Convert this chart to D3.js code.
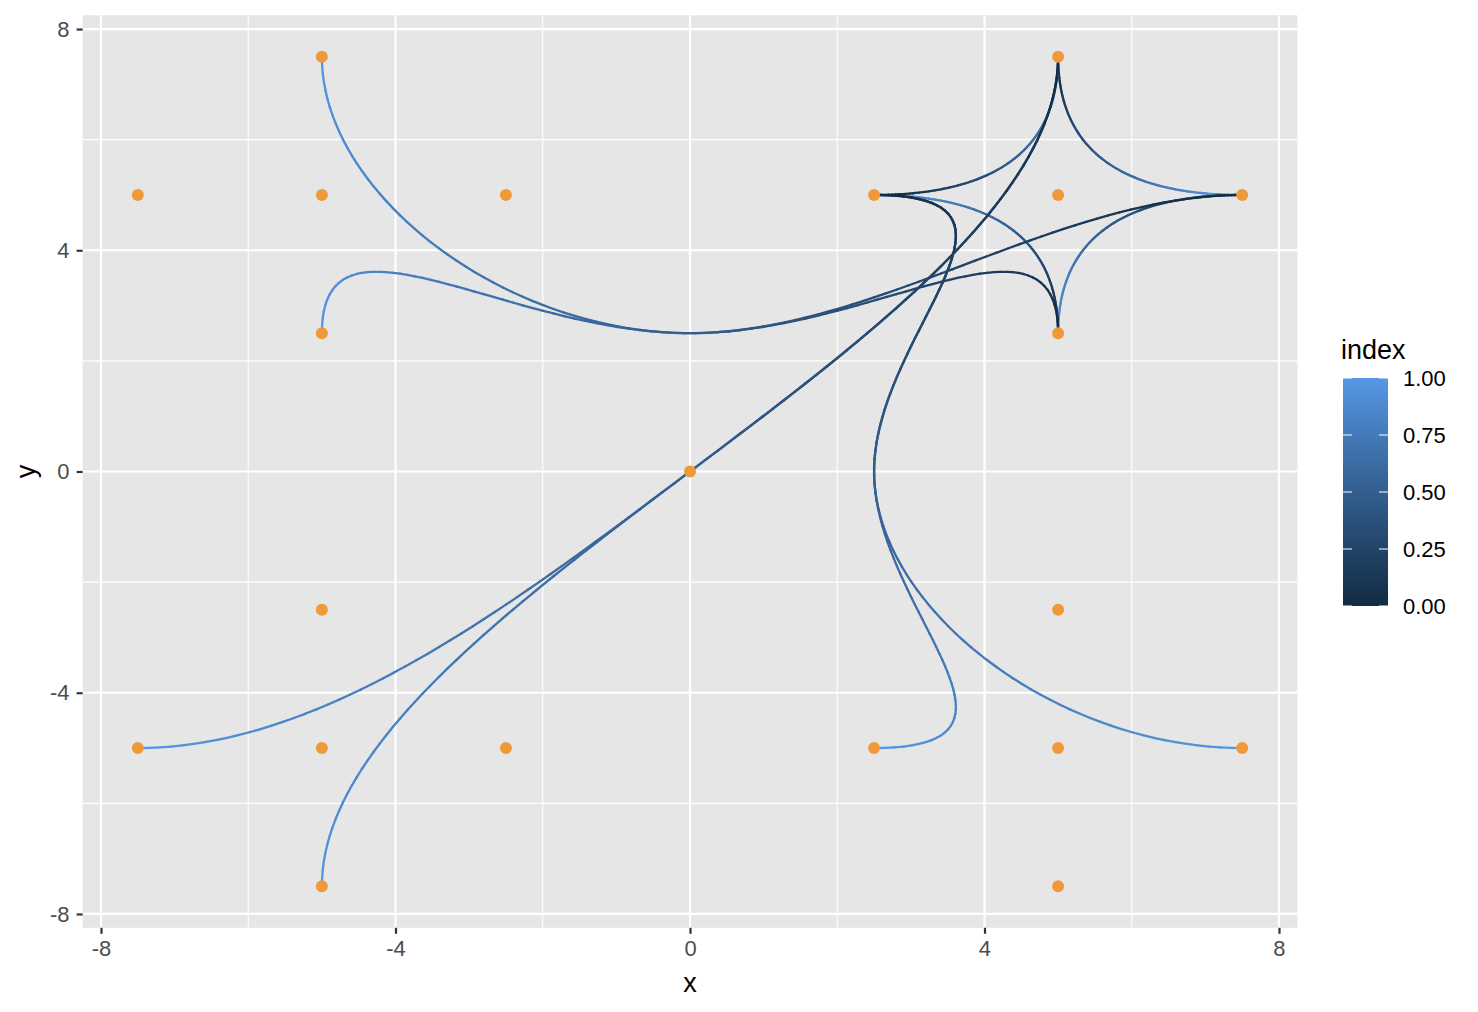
<!DOCTYPE html>
<html><head><meta charset="utf-8">
<script src="https://cdn.jsdelivr.net/npm/d3@7"></script>
<style>body{margin:0;background:#fff;font-family:"Liberation Sans",Arial,sans-serif;}</style>
</head><body><div id="chart"></div>
<script>
// nodes of the tree (name, x, y)
const nodeNames = ["root","TL","TR","BL","BR",
  "TL_N","TL_W","TL_E","TL_S","TR_N","TR_W","TR_E","TR_S",
  "BL_N","BL_W","BL_E","BL_S","BR_N","BR_W","BR_E","BR_S"];
const nodeX = [0,-5,5,-5,5, -5,-7.5,-2.5,-5, 5,2.5,7.5,5, -5,-7.5,-2.5,-5, 5,2.5,7.5,5];
const nodeY = [0,5,5,-5,-5, 7.5,5,5,2.5, 7.5,5,5,2.5, -2.5,-5,-5,-7.5, -2.5,-5,-5,-7.5];
// edges (from leaf, to leaf)
const edgeFrom = ["TR_N","TR_E","TR_S","TR_W","TR_W","TR_W","TR_N","TR_N","TR_E","TR_S"];
const edgeTo   = ["TR_E","TR_S","TR_W","TR_N","BR_W","BR_E","BL_W","BL_S","TL_N","TL_S"];
const xTicks = [-8,-4,0,4,8];
const yTicks = [-8,-4,0,4,8];
const xMinor = [-6,-2,2,6];
const yMinor = [-6,-2,2,6];
const legendTicks = [0,0.25,0.5,0.75,1];

const W=1478,H=1012;
const svg=d3.select("#chart").append("svg").attr("width",W).attr("height",H);
const x=d3.scaleLinear().domain([-8.25,8.25]).range([82.6,1297.4]);
const y=d3.scaleLinear().domain([-8.25,8.25]).range([927.8,15.2]);
const col=d3.scaleLinear().domain([0,1]).range(["#132B43","#5697E4"]).interpolate(d3.interpolateLab);

svg.append("rect").attr("x",x(-8.25)).attr("y",y(8.25)).attr("width",x(8.25)-x(-8.25)).attr("height",y(-8.25)-y(8.25)).attr("fill","#E6E6E6");
const g=svg.append("g");
xMinor.forEach(v=>g.append("line").attr("x1",x(v)).attr("x2",x(v)).attr("y1",y(8.25)).attr("y2",y(-8.25)).attr("stroke","#fff").attr("stroke-width",1.1));
yMinor.forEach(v=>g.append("line").attr("y1",y(v)).attr("y2",y(v)).attr("x1",x(-8.25)).attr("x2",x(8.25)).attr("stroke","#fff").attr("stroke-width",1.1));
xTicks.forEach(v=>g.append("line").attr("x1",x(v)).attr("x2",x(v)).attr("y1",y(8.25)).attr("y2",y(-8.25)).attr("stroke","#fff").attr("stroke-width",2.2));
yTicks.forEach(v=>g.append("line").attr("y1",y(v)).attr("y2",y(v)).attr("x1",x(-8.25)).attr("x2",x(8.25)).attr("stroke","#fff").attr("stroke-width",2.2));

// axes
const fmt=d=>d<0?"-"+Math.abs(d):String(d);
const xa=svg.append("g").attr("transform",`translate(0,${y(-8.25)})`).call(d3.axisBottom(x).tickValues(xTicks).tickFormat(fmt).tickSize(6).tickPadding(7));
const ya=svg.append("g").attr("transform",`translate(${x(-8.25)},0)`).call(d3.axisLeft(y).tickValues(yTicks).tickFormat(fmt).tickSize(6).tickPadding(7));
[xa,ya].forEach(a=>{a.select(".domain").remove();a.selectAll(".tick line").attr("stroke","#333").attr("stroke-width",2.2);
  a.selectAll("text").attr("fill","#4D4D4D").style("font-size","22px").style("font-family","Liberation Sans, Arial, sans-serif");});

svg.append("text").attr("x",x(0)).attr("y",992).attr("text-anchor","middle").style("font-size","27px").text("x");
svg.append("text").attr("transform",`translate(35,${y(0)}) rotate(-90)`).attr("text-anchor","middle").style("font-size","27px").text("y");

// clamped B-spline via de Boor
function bspline(P, n){
  const k=Math.min(3,P.length-1);
  const m=P.length;
  const inner=m-k;
  const knots=[];
  for(let i=0;i<=k;i++) knots.push(0);
  for(let i=1;i<inner;i++) knots.push(i);
  for(let i=0;i<=k;i++) knots.push(inner);
  const out=[];
  for(let s=0;s<n;s++){
    let u=inner*s/(n-1);
    let span=k;
    while(span<m-1 && u>=knots[span+1]) span++;
    if(u>=inner) span=m-1;
    const d=[];
    for(let j=0;j<=k;j++) d.push(P[span-k+j].slice());
    for(let r=1;r<=k;r++){
      for(let j=k;j>=r;j--){
        const i=span-k+j;
        const den=knots[i+k-r+1]-knots[i];
        const a=den===0?0:(u-knots[i])/den;
        d[j]=[(1-a)*d[j-1][0]+a*d[j][0],(1-a)*d[j-1][1]+a*d[j][1]];
      }
    }
    out.push(d[k]);
  }
  return out;
}
function idx(n){return nodeNames.indexOf(n);}
function path(a,b){
  const ca=a.split("_")[0], cb=b.split("_")[0];
  const seq = ca===cb ? [a,ca,b] : [a,ca,"root",cb,b];
  return seq.map(s=>[nodeX[idx(s)],nodeY[idx(s)]]);
}
const N=100;
const lines=svg.append("g");
edgeFrom.forEach((f,e)=>{
  const pts=bspline(path(f,edgeTo[e]),N);
  for(let i=0;i<N-1;i++){
    lines.append("line").attr("x1",x(pts[i][0])).attr("y1",y(pts[i][1]))
      .attr("x2",x(pts[i+1][0])).attr("y2",y(pts[i+1][1]))
      .attr("stroke",col(i/(N-1))).attr("stroke-width",2.3).attr("stroke-linecap","round");
  }
});
// points
svg.append("g").selectAll("circle").data(nodeNames)
  .join("circle").attr("cx",d=>x(nodeX[idx(d)])).attr("cy",d=>y(nodeY[idx(d)])).attr("r",6).attr("fill","#EF9A3A");

// legend
const lg=svg.append("g");
lg.append("text").attr("x",1341).attr("y",359).style("font-size","27px").text("index");
const defs=svg.append("defs");
const grad=defs.append("linearGradient").attr("id","gr").attr("x1",0).attr("y1",1).attr("x2",0).attr("y2",0);
d3.range(0,1.0001,0.05).forEach(t=>grad.append("stop").attr("offset",t).attr("stop-color",col(t)));
const ly=d3.scaleLinear().domain([0,1]).range([606,378]);
lg.append("rect").attr("x",1343).attr("y",378).attr("width",45).attr("height",228).attr("fill","url(#gr)");
legendTicks.forEach(t=>{
  lg.append("line").attr("x1",1343).attr("x2",1352).attr("y1",ly(t)).attr("y2",ly(t)).attr("stroke","#fff").attr("stroke-width",1);
  lg.append("line").attr("x1",1379).attr("x2",1388).attr("y1",ly(t)).attr("y2",ly(t)).attr("stroke","#fff").attr("stroke-width",1);
  lg.append("text").attr("x",1403).attr("y",ly(t)).attr("dy","0.36em").style("font-size","22px").attr("fill","#000").text(t.toFixed(2));
});
</script></body></html>
